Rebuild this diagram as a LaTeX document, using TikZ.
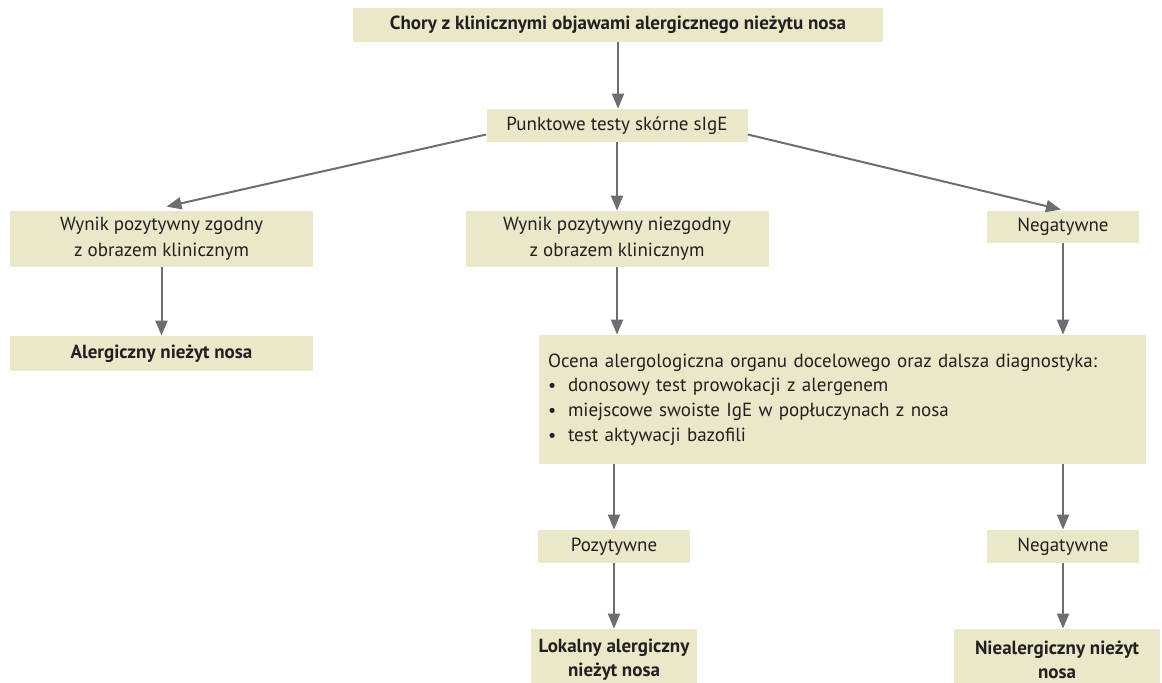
\documentclass[tikz,border=0pt]{standalone}
\usepackage{fontspec}
\setmainfont{PT Sans}
\usetikzlibrary{arrows.meta,calc}
\definecolor{boxfill}{HTML}{EAE8C9}
\definecolor{arrgray}{HTML}{6D6E71}
\definecolor{txtcol}{HTML}{231F20}
\tikzset{
  box/.style={fill=boxfill,text=txtcol,inner sep=0pt,align=center,font=\fontsize{9.5}{12.8}\selectfont},
  hdbox/.style={box,font=\bfseries\fontsize{9.5}{12}\selectfont},
  arr/.style={draw=arrgray,line width=1pt,-{Triangle[length=7.5pt,width=6pt]}}
}
\begin{document}
\begin{tikzpicture}[x=0.5pt,y=-0.5pt]
\useasboundingbox (0,0) rectangle (1162,682);
\clip (0,0) rectangle (1162,682);
% gorny rzad
\node[hdbox,minimum width=265pt,minimum height=17pt] (chory) at (618,25) {Chory z klinicznymi objawami alergicznego nieżytu nosa};
\node[box,minimum width=130.5pt,minimum height=16.5pt] (punkt) at (617,125.5) {Punktowe testy skórne sIgE};
% wyniki testow
\node[box,minimum width=151.5pt,minimum height=28pt] (zgodny) at (161.5,239) {Wynik pozytywny zgodny\\z obrazem klinicznym};
\node[box,minimum width=151.5pt,minimum height=28pt] (niezgodny) at (617,239) {Wynik pozytywny niezgodny\\z obrazem klinicznym};
\node[box,minimum width=76pt,minimum height=16pt] (neg) at (1063,227) {Negatywne};
\node[hdbox,minimum width=151.5pt,minimum height=17.5pt] (anosa) at (161.5,353.5) {Alergiczny nieżyt nosa};
% ocena narzadowa
\node[box,align=left,text width=294.5pt,inner xsep=4.5pt,minimum height=64.5pt,font=\fontsize{9.5}{12.3}\selectfont] (ocena) at (842.5,399.5)
  {Ocena alergologiczna organu docelowego oraz dalsza diagnostyka:\\
   \makebox[10pt][l]{\small\textbullet}donosowy test prowokacji z alergenem\\
   \makebox[10pt][l]{\small\textbullet}miejscowe swoiste IgE w popłuczynach z nosa\\
   \makebox[10pt][l]{\small\textbullet}test aktywacji bazofili};
\node[box,minimum width=76pt,minimum height=16.5pt] (poz) at (614,546.5) {Pozytywne};
\node[box,minimum width=76pt,minimum height=16.5pt] (neg2) at (1063,546.5) {Negatywne};
\node[hdbox,minimum width=83pt,minimum height=31pt] (lokalny) at (614,660) {Lokalny alergiczny\\nieżyt nosa};
\node[hdbox,minimum width=103pt,minimum height=31pt] (niealerg) at (1057,660) {Niealergiczny nieżyt\\nosa};
% strzalki
\draw[arr] (chory.south) -- (chory.south |- punkt.north);
\draw[arr] ([yshift=-4.5pt]punkt.west) -- ([xshift=2.5pt,yshift=2pt]zgodny.north);
\draw[arr] (punkt.south) -- (punkt.south |- niezgodny.north);
\draw[arr] ([yshift=-4.5pt]punkt.east) -- ([xshift=-1pt,yshift=0.5pt]neg.north);
\draw[arr] (zgodny.south) -- (anosa.north);
\draw[arr] (niezgodny.south) -- (niezgodny.south |- ocena.north);
\draw[arr] (neg.south) -- (neg.south |- ocena.north);
\draw[arr] (poz.north |- ocena.south) -- (poz.north);
\draw[arr] (neg2.north |- ocena.south) -- (neg2.north);
\draw[arr] (poz.south) -- (poz.south |- lokalny.north);
\draw[arr] (neg2.south) -- (neg2.south |- niealerg.north);
\end{tikzpicture}
\end{document}
